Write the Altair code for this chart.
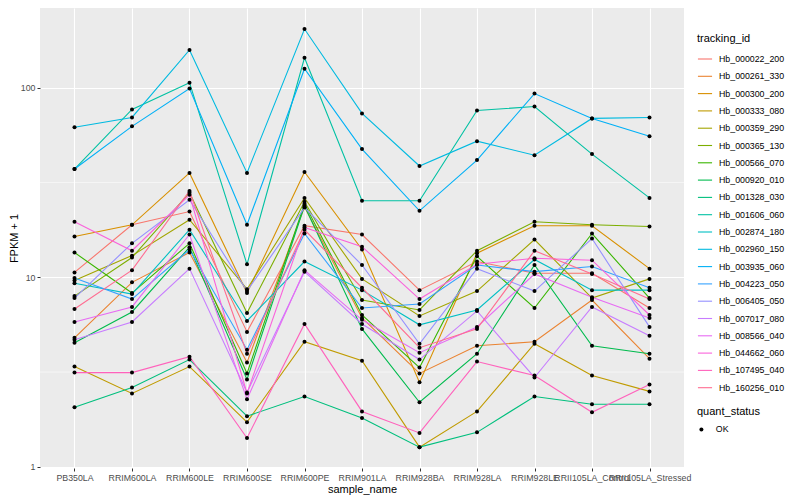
import altair as alt
import pandas as pd

samples = ["PB350LA", "RRIM600LA", "RRIM600LE", "RRIM600SE", "RRIM600PE", "RRIM901LA",
           "RRIM928BA", "RRIM928LA", "RRIM928LE", "RRII105LA_Control", "RRII105LA_Stressed"]

ids = ["Hb_000022_200", "Hb_000261_330", "Hb_000300_200", "Hb_000333_080", "Hb_000359_290",
       "Hb_000365_130", "Hb_000566_070", "Hb_000920_010", "Hb_001328_030", "Hb_001606_060",
       "Hb_002874_180", "Hb_002960_150", "Hb_003935_060", "Hb_004223_050", "Hb_006405_050",
       "Hb_007017_080", "Hb_008566_040", "Hb_044662_060", "Hb_107495_040", "Hb_160256_010"]

colors = ["#F8766D", "#EA8331", "#D89000", "#C09B00", "#A3A500", "#7CAE00", "#39B600", "#00BB4E",
          "#00BF7D", "#00C1A3", "#00BFC4", "#00BAE0", "#00B0F6", "#35A2FF", "#9590FF", "#C77CFF",
          "#E76BF3", "#FA62DB", "#FF62BC", "#FF6C91"]

hb_000022_200 = [10.6, 18.9, 22.2, 5.15, 18.7, 16.8, 8.55, 12.1, 10.5, 10.5, 6.88]
hb_000261_330 = [4.79, 9.4, 13.5, 3.55, 23.5, 6.10, 3.11, 4.35, 4.57, 7.58, 3.72]
hb_000300_200 = [16.4, 18.9, 35.5, 8.25, 35.9, 14.0, 2.79, 13.4, 18.7, 18.7, 11.1]
hb_000333_080 = [3.38, 2.44, 3.38, 1.72, 4.57, 3.63, 1.27, 1.96, 4.46, 3.03, 2.50]
hb_000359_290 = [9.6, 13.0, 20.1, 8.65, 26.2, 9.8, 6.25, 8.45, 15.8, 7.76, 9.8]
hb_000365_130 = [7.95, 12.7, 27.9, 6.48, 25.0, 7.58, 6.72, 13.8, 19.6, 18.9, 18.5]
hb_000566_070 = [13.5, 8.25, 15.1, 3.11, 24.4, 6.32, 3.34, 12.9, 6.88, 17.0, 7.76]
hb_000920_010 = [4.51, 6.56, 14.4, 2.89, 23.8, 5.34, 2.19, 3.95, 11.6, 4.35, 3.95]
hb_001328_030 = [2.06, 2.62, 3.68, 1.85, 2.35, 1.81, 1.27, 1.52, 2.35, 2.14, 2.14]
hb_001606_060 = [37.2, 76.7, 106.2, 11.7, 143.6, 25.3, 25.3, 75.8, 79.5, 44.6, 26.2]
hb_002874_180 = [9.3, 8.15, 17.8, 5.88, 12.1, 8.55, 5.61, 6.72, 12.4, 8.55, 8.55]
hb_002960_150 = [61.8, 69.6, 158.1, 35.5, 203.7, 73.1, 38.6, 52.2, 44.0, 68.8, 69.6]
hb_003935_060 = [37.2, 62.5, 98.8, 18.9, 125.8, 47.4, 22.4, 41.5, 93.0, 68.8, 55.4]
hb_004223_050 = [9.9, 7.67, 14.0, 4.15, 17.0, 6.88, 7.22, 11.6, 10.7, 11.4, 8.8]
hb_006405_050 = [7.76, 15.1, 25.6, 8.45, 23.3, 11.6, 4.46, 11.1, 8.45, 16.0, 5.47]
hb_007017_080 = [4.68, 5.81, 11.1, 2.47, 10.7, 5.67, 3.68, 6.64, 2.96, 6.97, 4.91]
hb_008566_040 = [5.81, 6.97, 16.8, 2.27, 10.9, 5.96, 4.00, 5.47, 10.4, 7.85, 6.10]
hb_044662_060 = [19.6, 13.8, 27.2, 2.44, 18.3, 14.5, 7.67, 11.7, 12.6, 12.3, 6.32]
hb_107495_040 = [3.14, 3.14, 3.81, 1.42, 5.67, 1.96, 1.51, 3.59, 3.03, 1.94, 2.72]
hb_160256_010 = [6.80, 10.9, 28.5, 3.95, 17.8, 8.8, 4.25, 5.34, 13.8, 10.4, 7.67]

series = [hb_000022_200, hb_000261_330, hb_000300_200, hb_000333_080, hb_000359_290,
          hb_000365_130, hb_000566_070, hb_000920_010, hb_001328_030, hb_001606_060,
          hb_002874_180, hb_002960_150, hb_003935_060, hb_004223_050, hb_006405_050,
          hb_007017_080, hb_008566_040, hb_044662_060, hb_107495_040, hb_160256_010]

y_breaks = [1, 10, 100]
y_minor = [3.162, 31.62]

rows = []
for tid, vals in zip(ids, series):
    for s, v in zip(samples, vals):
        rows.append({"tracking_id": tid, "sample_name": s, "fpkm": v, "quant_status": "OK"})
df = pd.DataFrame(rows)
minor_df = pd.DataFrame({"y": y_minor})

FONT = "Liberation Sans"

x_enc = alt.X("sample_name:N", sort=samples,
              scale=alt.Scale(type="point", padding=0.6),
              axis=alt.Axis(title="sample_name", labelAngle=0, labelOverlap=False,
                            labelBound=False, labelLimit=300))
y_scale = alt.Scale(type="log", domain=[0.986, 263], nice=False, zero=False)
y_enc = alt.Y("fpkm:Q", scale=y_scale,
              axis=alt.Axis(title="FPKM + 1", values=y_breaks, format="d"))

minor = alt.Chart(minor_df).mark_rule(color="white", strokeWidth=0.55).encode(
    y=alt.Y("y:Q", scale=y_scale)
)

lines = alt.Chart(df).mark_line(strokeWidth=1.1).encode(
    x=x_enc, y=y_enc,
    color=alt.Color("tracking_id:N", sort=ids,
                    scale=alt.Scale(domain=ids, range=colors),
                    legend=alt.Legend(title="tracking_id", orient="none", legendX=657, legendY=25,
                                      symbolType="stroke", symbolSize=200, symbolStrokeWidth=1.1,
                                      rowPadding=4.3, labelFontSize=8.8, titleFontSize=11,
                                      labelOffset=6, titlePadding=7)),
    detail="tracking_id:N",
)

points = alt.Chart(df).mark_point(filled=True, size=16, color="black", opacity=1).encode(
    x=x_enc, y=y_enc,
    shape=alt.Shape("quant_status:N", scale=alt.Scale(range=["circle"]),
                    legend=alt.Legend(title="quant_status", orient="none", legendX=657, legendY=398,
                                      symbolFillColor="black", symbolStrokeColor="black",
                                      symbolSize=16, labelFontSize=8.8, titleFontSize=11,
                                      labelOffset=10, titlePadding=8)),
)

chart = alt.layer(minor, lines, points).properties(
    width=644, height=460,
    autosize=alt.AutoSizeParams(type="none"),
    padding={"left": 32, "top": 0, "right": 108, "bottom": 32},
    background="white",
).configure_view(
    fill="#EBEBEB", strokeWidth=0
).configure_axis(
    domain=False, grid=True, gridColor="white", gridWidth=1.1,
    tickColor="#333333", tickSize=3, tickWidth=1,
    labelColor="#4D4D4D", labelFontSize=8.8, labelFont=FONT, labelPadding=2,
    titleFont=FONT, titleFontSize=11, titleFontWeight="normal", titleColor="black",
).configure_axisX(
    titlePadding=2
).configure_axisY(
    titlePadding=1
).configure_legend(
    titleFont=FONT, labelFont=FONT, titleFontWeight="normal", titleColor="black",
    labelColor="black"
)

chart.save("out.html", embed_options={"renderer": "svg", "actions": False})
